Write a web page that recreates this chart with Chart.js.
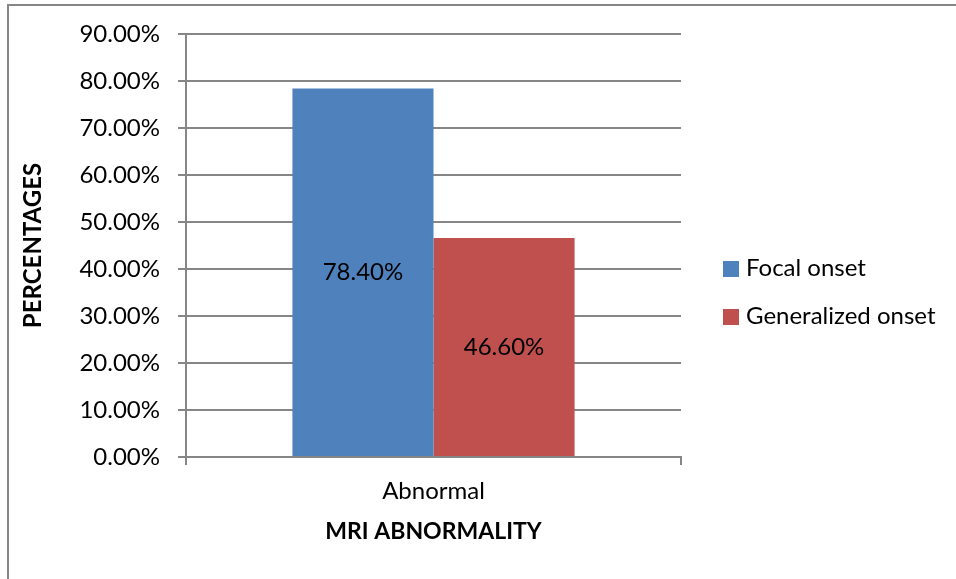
<!DOCTYPE html>
<html>
<head>
<meta charset="utf-8">
<title>MRI abnormality by seizure onset</title>
<script src="https://cdn.jsdelivr.net/npm/chart.js@4/dist/chart.umd.min.js"></script>
<style>
  html, body { margin: 0; padding: 0; background: #ffffff; }
  #wrap { position: relative; width: 956px; height: 579px; }
</style>
</head>
<body>
<div id="wrap"><canvas id="chart" width="956" height="579"></canvas></div>
<script>
// Data
const categories = ['Abnormal'];
const seriesNames = ['Focal onset', 'Generalized onset'];
const focalOnset = [78.4];
const generalizedOnset = [46.6];
const seriesColors = ['#4F81BD', '#C0504D'];
const yTickValues = [0, 10, 20, 30, 40, 50, 60, 70, 80, 90];
const yAxisTitle = 'PERCENTAGES';
const xAxisTitle = 'MRI ABNORMALITY';

const FONT = 'Lato, "Liberation Sans", sans-serif';
const GRID = '#868686';
const TEXT_SIZE = 24;

const fmtPct = v => Number(v).toFixed(2) + '%';

// White page with the outer frame (left and top edges)
const framePlugin = {
  id: 'frame',
  beforeDraw(chart) {
    const ctx = chart.ctx;
    ctx.save();
    ctx.fillStyle = '#ffffff';
    ctx.fillRect(0, 0, chart.width, chart.height);
    ctx.strokeStyle = '#868686';
    ctx.lineWidth = 2;
    ctx.beginPath();
    ctx.moveTo(8, chart.height);
    ctx.lineTo(8, 5);
    ctx.lineTo(chart.width, 5);
    ctx.stroke();
    ctx.restore();
  }
};

// Value labels centred inside each bar
const barLabelPlugin = {
  id: 'barLabels',
  afterDatasetsDraw(chart) {
    const ctx = chart.ctx;
    ctx.save();
    ctx.font = TEXT_SIZE + 'px ' + FONT;
    ctx.fillStyle = '#000000';
    ctx.textAlign = 'center';
    ctx.textBaseline = 'middle';
    chart.data.datasets.forEach((ds, i) => {
      chart.getDatasetMeta(i).data.forEach((bar, j) => {
        const y = (bar.y + bar.base) / 2;
        ctx.fillText(fmtPct(ds.data[j]), bar.x, y);
      });
    });
    ctx.restore();
  }
};

// Legend on the right
const sideLegendPlugin = {
  id: 'sideLegend',
  afterDraw(chart) {
    const ctx = chart.ctx;
    const x0 = 723, y0 = 261, box = 16, gap = 48;
    ctx.save();
    ctx.font = TEXT_SIZE + 'px ' + FONT;
    ctx.textAlign = 'left';
    ctx.textBaseline = 'alphabetic';
    chart.data.datasets.forEach((ds, i) => {
      const y = y0 + i * gap;
      ctx.fillStyle = ds.backgroundColor;
      ctx.fillRect(x0, y, box, box);
      ctx.fillStyle = '#000000';
      ctx.fillText(ds.label, x0 + 23, y + 15);
    });
    ctx.restore();
  }
};

new Chart(document.getElementById('chart'), {
  type: 'bar',
  data: {
    labels: categories,
    datasets: [
      { label: seriesNames[0], data: focalOnset, backgroundColor: seriesColors[0] },
      { label: seriesNames[1], data: generalizedOnset, backgroundColor: seriesColors[1] }
    ]
  },
  options: {
    responsive: false,
    animation: false,
    events: [],
    layout: { padding: { left: 0, top: 34, right: 275, bottom: 0 } },
    datasets: { bar: { categoryPercentage: 0.57, barPercentage: 1.0 } },
    plugins: {
      legend: { display: false },
      tooltip: { enabled: false }
    },
    scales: {
      x: {
        afterFit(scale) { scale.height = 122; },
        grid: { display: true, drawOnChartArea: false, drawTicks: true, tickLength: 8, color: GRID, lineWidth: 2, offset: true },
        border: { display: true, color: GRID, width: 2 },
        ticks: { color: '#000000', font: { family: FONT, size: TEXT_SIZE }, padding: 12 },
        title: {
          display: true, text: xAxisTitle, color: '#000000',
          font: { family: FONT, size: 23, weight: 'bold' },
          padding: { top: 0, bottom: 34 }
        }
      },
      y: {
        min: 0, max: 90,
        afterFit(scale) { scale.width = 186; },
        afterBuildTicks(scale) { scale.ticks = yTickValues.map(v => ({ value: v })); },
        grid: { color: GRID, lineWidth: 2, tickLength: 8, drawTicks: true },
        border: { display: true, color: GRID, width: 2 },
        ticks: { color: '#000000', font: { family: FONT, size: TEXT_SIZE }, padding: 18, callback: v => fmtPct(v) },
        title: {
          display: true, text: yAxisTitle, color: '#000000',
          font: { family: FONT, size: 24, weight: 'bold' },
          padding: { top: 19, bottom: 0 }
        }
      }
    }
  },
  plugins: [framePlugin, barLabelPlugin, sideLegendPlugin]
});
</script>
</body>
</html>
